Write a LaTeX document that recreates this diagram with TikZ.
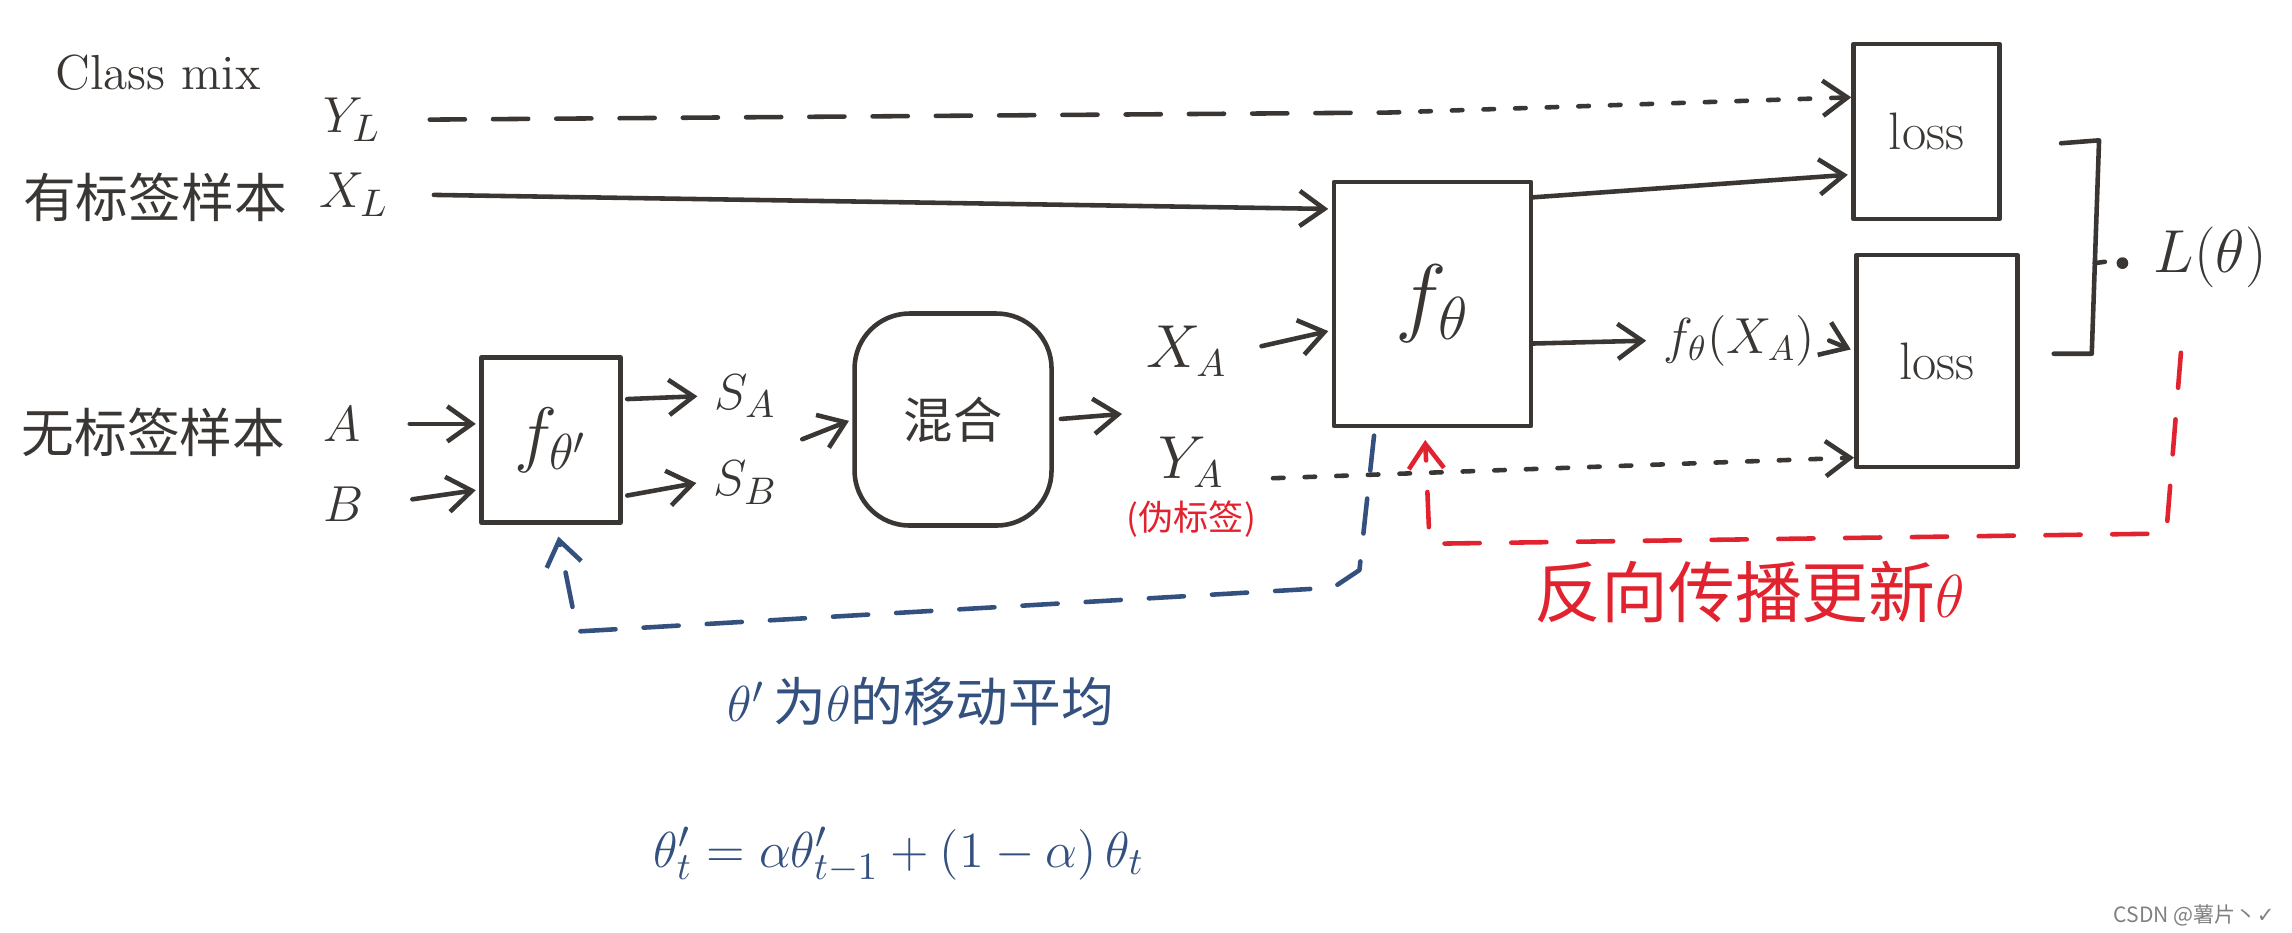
\documentclass[tikz,border=0pt]{standalone}
\usepackage{fontspec}
\newfontfamily\cjk{Noto Sans CJK SC}
\newfontfamily\symb{DejaVu Sans}
\usepackage{xcolor}
\usetikzlibrary{arrows.meta,calc,positioning}
\definecolor{ink}{HTML}{3A3634}
\definecolor{inkblue}{HTML}{33507E}
\definecolor{inkred}{HTML}{E1222F}

\begin{document}
\begin{tikzpicture}[
    x=0.014617cm, y=-0.014617cm,
    >={Straight Barb[length=7pt,width=10pt]},
    line width=1.3pt, line cap=round, line join=round,
    every node/.style={text=ink},
    box/.style={draw=ink, line width=1.3pt, inner sep=0pt},
    lbl/.style={font=\fontsize{15}{18}\selectfont},
    zh/.style={font=\cjk\fontsize{15}{18}\selectfont},
    flow/.style={draw=ink, ->, shorten <=6pt, shorten >=1pt},
    dashline/.style={draw=ink, dash pattern=on 10pt off 8pt},
    dotline/.style={draw=ink, dash pattern=on 3pt off 6pt},
    emaline/.style={draw=inkblue, dash pattern=on 10pt off 8pt, ->},
    bpline/.style={draw=inkred, dash pattern=on 10pt off 9pt, ->},
  ]
    \useasboundingbox (0,0) rectangle (1568,638);

    % labelled branch
    \node[lbl, font=\fontsize{14}{16}\selectfont] (cmix) at (108,50) {Class mix};
    \node[lbl] (YL) at (241,82) {$Y_L$};
    \node[zh] (lab) at (106,135) {有标签样本};
    \node[lbl] (XL) at (242,133) {$X_L$};

    % unlabelled branch
    \node[zh] (unl) at (105,296) {无标签样本};
    \node[lbl] (A) at (234,290) {$A$};
    \node[lbl] (B) at (235,345) {$B$};
    \node[box, minimum width=1.39cm, minimum height=1.65cm,
          font=\fontsize{22}{24}\selectfont] (fp) at (377,301) {$f_{\theta'}$};
    \node[lbl] (SA) at (510,271) {$S_A$};
    \node[lbl] (SB) at (510,330) {$S_B$};
    \node[box, rounded corners=0.55cm, minimum width=1.97cm, minimum height=2.12cm,
          font=\cjk\fontsize{14}{16}\selectfont] (mix) at (652,287) {混合};
    \coordinate (mixout) at (770,283);
    \node[lbl, font=\fontsize{16}{18}\selectfont] (XA) at (812,240) {$X_A$};
    \node[lbl, font=\fontsize{16}{18}\selectfont] (YA) at (815,316) {$Y_A$};
    \node[text=inkred, font=\cjk\fontsize{10}{12}\selectfont, below=-4pt of YA] (pseudo) {(伪标签)};

    % student network and losses
    \node[box, minimum width=1.97cm, minimum height=2.44cm,
          font=\fontsize{24}{26}\selectfont] (ft) at (980,208) {$f_\theta$};
    \node[box, minimum width=1.46cm, minimum height=1.75cm, lbl] (loss1) at (1318,90) {loss};
    \node[box, minimum width=1.61cm, minimum height=2.12cm, lbl] (loss2) at (1325,247) {loss};
    \node[lbl, font=\fontsize{14}{16}\selectfont] (fX) at (1190,233) {$f_\theta(X_A)$};
    \node[font=\fontsize{18}{20}\selectfont] (Lt) at (1512,176) {$L(\theta)$};

    \coordinate (yldot) at (950,77);
    \draw[dashline, shorten <=10pt] (YL.east) -- (yldot);
    \draw[dotline, ->] (yldot) -- ($(loss1.north west)+(0,38)$);
    \draw[flow, shorten <=9pt] (XL.east) -- ($(ft.north west)+(0,20)$);
    \draw[flow, shorten <=10pt] (A.east) -- (fp.west |- A);
    \draw[flow, shorten <=10pt] (B.east) -- ($(fp.west)+(0,34)$);
    \draw[flow, shorten <=0pt] ($(fp.north east)+(3,30)$) -- (SA.west);
    \draw[flow, shorten <=0pt] ($(fp.south east)+(3,-20)$) -- (SB.west);
    \draw[flow, shorten <=0pt] ($(SA.east)!0.5!(SB.east)+(8,0)$) -- (mix.west);
    \draw[flow, shorten <=2pt] (mix.east) -- (mixout);
    \draw[flow] (XA.east) -- ($(ft.north west)+(0,103)$);
    \draw[flow, shorten <=0pt] ($(ft.north east)+(0,12)$) -- ($(loss1.south west)+(0,-32)$);
    \draw[flow, shorten <=0pt] ($(ft.east)+(0,27)$) -- (fX.west);
    \draw[flow, shorten <=0pt] (fX.east) -- ($(loss2.west)+(0,-7)$);
    \draw[dotline, ->, shorten <=10pt] ($(YA.east)+(0,12)$) -- ($(loss2.south west)+(0,-8)$);

    % sum of the two losses
    \draw[ink] (1410,98) -- (1436,96) -- (1431,242) -- (1405,242);
    \draw[ink, shorten >=10pt] (1433,180) -- (Lt.west);
    \fill[ink] (1452,180) circle (4);

    % moving average of the weights
    \draw[emaline] ($(ft.south)+(-40,5)$) -- (930,390) -- (912,402) -- (395,432)
      -- ($(fp.south)+(5,8)$);
    \node[text=inkblue, font=\cjk\fontsize{15}{18}\selectfont] (emanote) at (630,480)
      {$\theta'$\,为$\theta$的移动平均};
    \node[text=inkblue, font=\fontsize{15}{17}\selectfont] (emaeq) at (615,585)
      {$\theta'_t = \alpha\theta'_{t-1} + (1-\alpha)\,\theta_t$};

    % back propagation
    \draw[bpline] ($(Lt.south)+(-20,35)$) -- (1482,365) -- (978,372) -- ($(ft.south)+(-5,8)$);
    \node[text=inkred, font=\cjk\fontsize{19}{22}\selectfont] (bpnote) at (1197,405)
      {反向传播更新$\theta$};

    \node[text=gray, font=\cjk\fontsize{6}{7}\selectfont, anchor=east, inner sep=1pt] (mark)
      at (1560,626) {CSDN @薯片丶{\symb ✓}};
\end{tikzpicture}
\end{document}
